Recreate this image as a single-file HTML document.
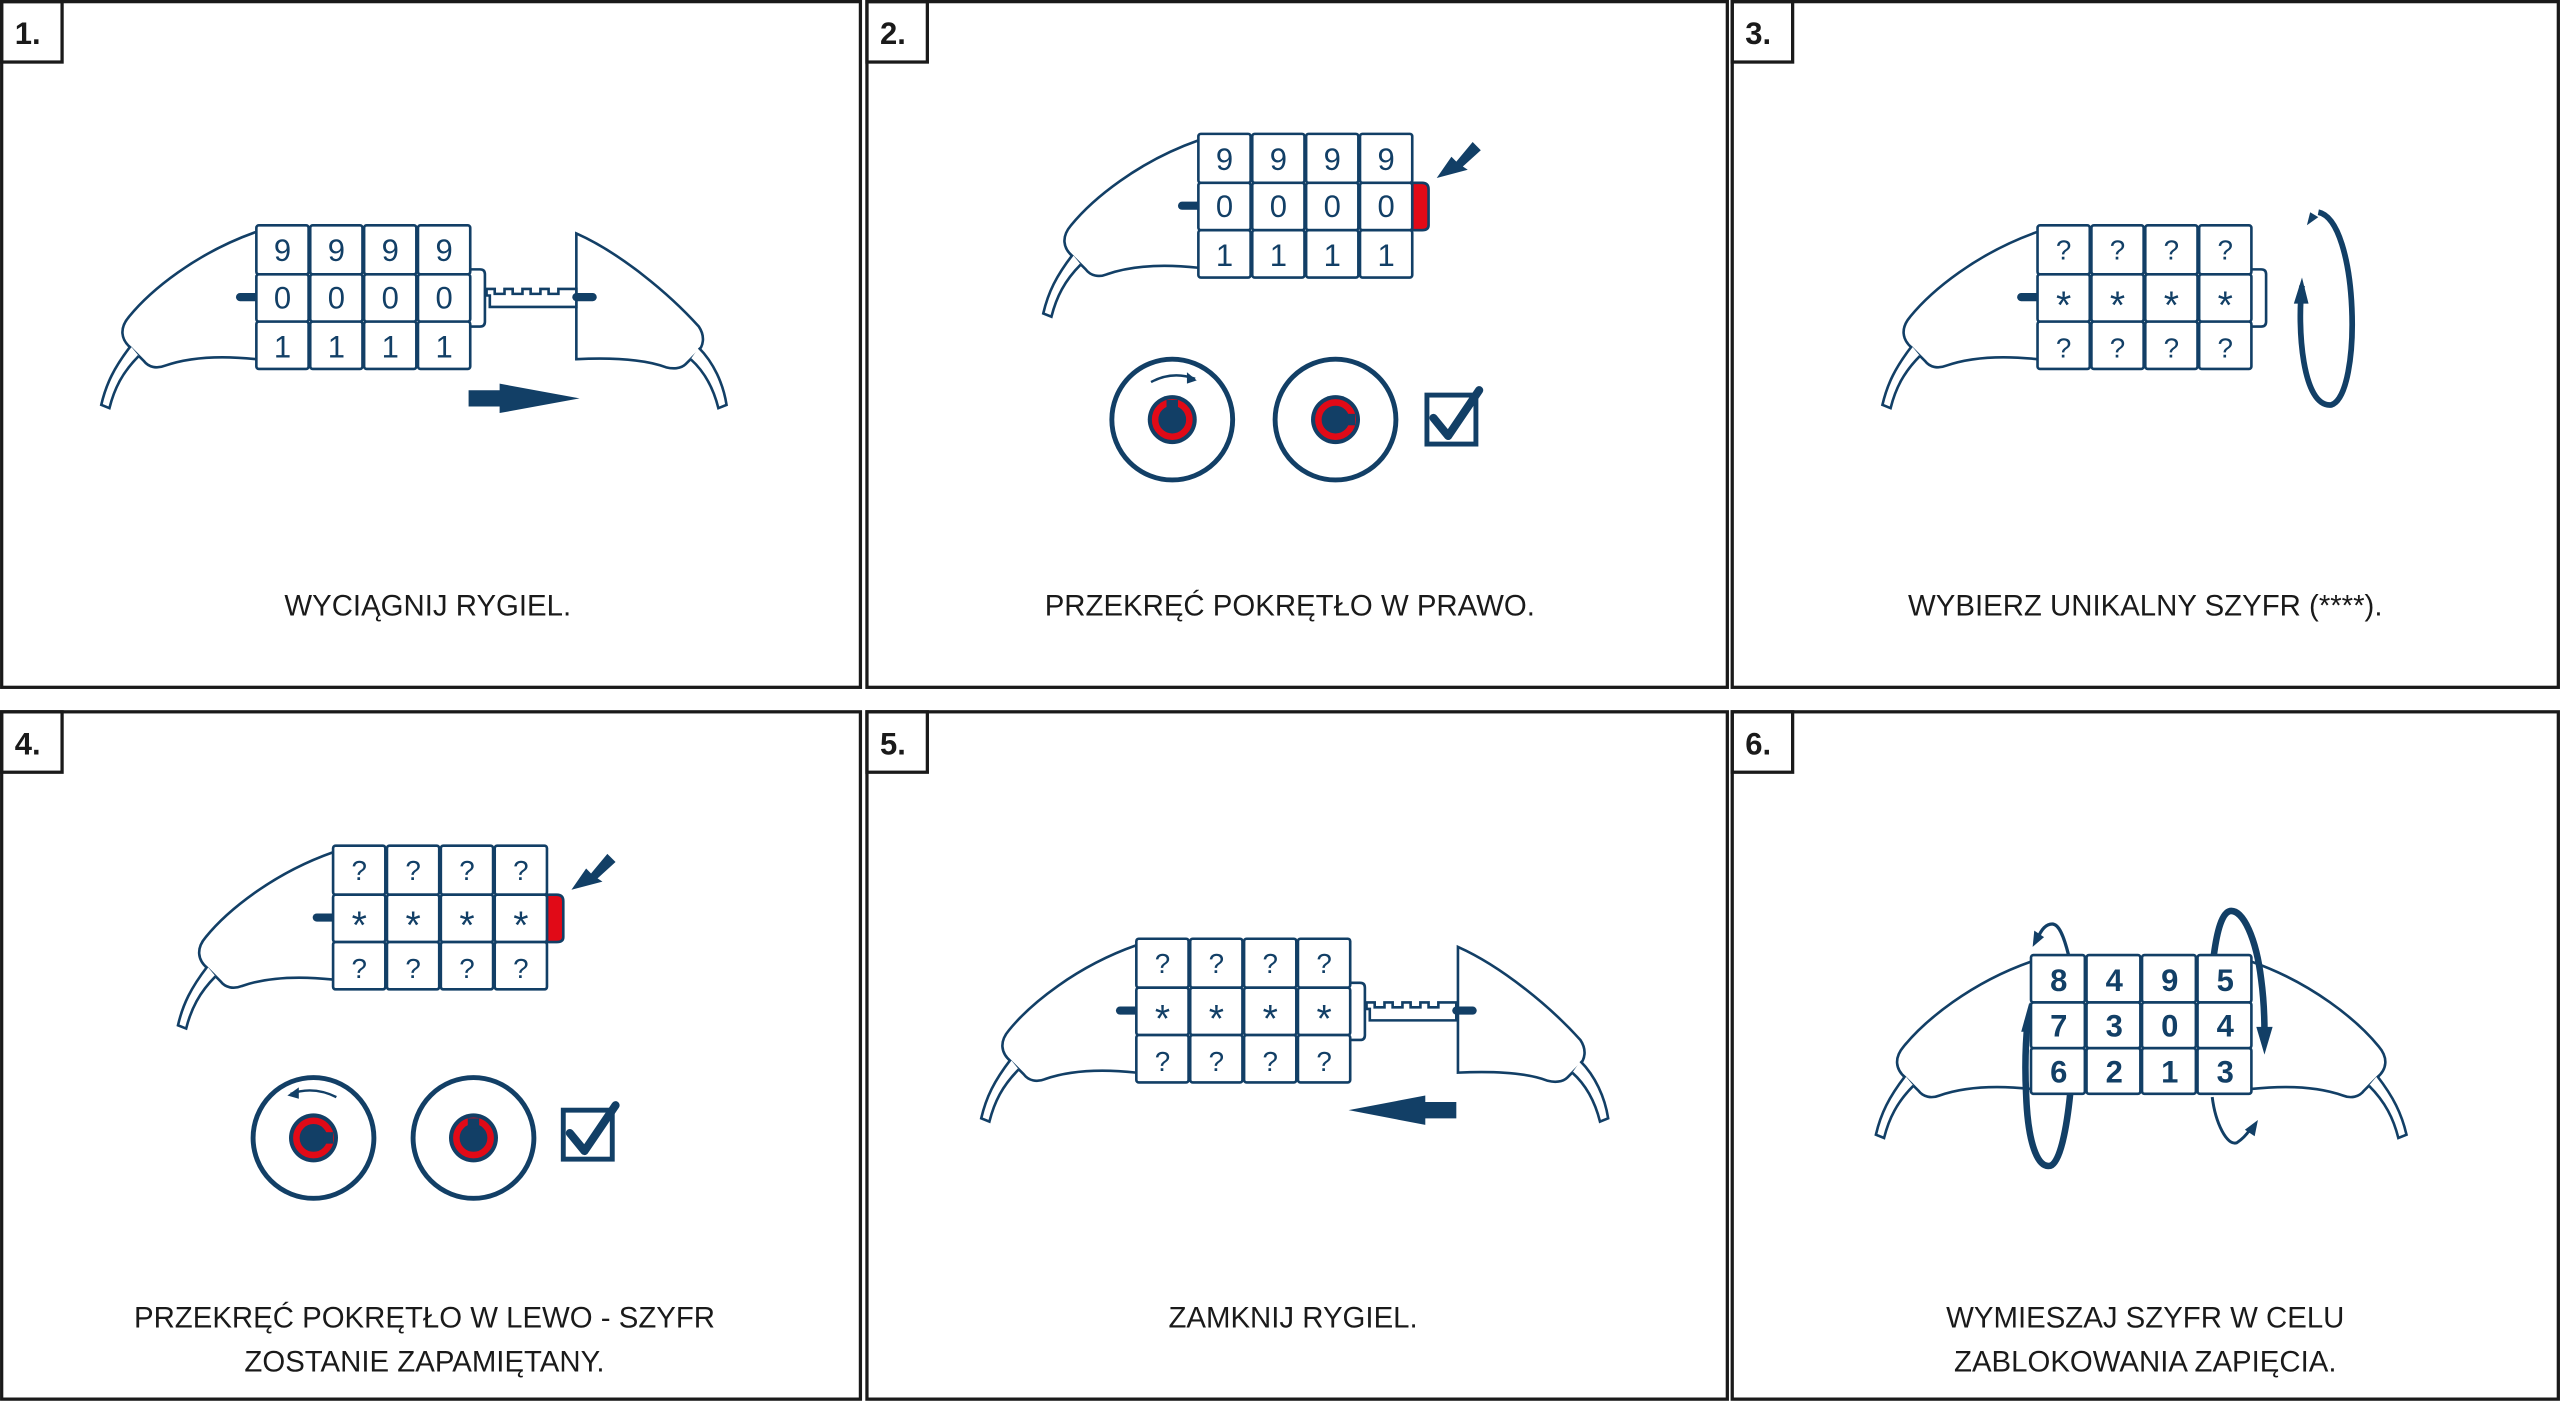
<!DOCTYPE html>
<html><head><meta charset="utf-8"><style>
html,body{margin:0;padding:0;background:#fff;}
svg{display:block;}
text{font-family:"Liberation Sans",sans-serif;}
</style></head><body>
<svg width="2560" height="1402" viewBox="0 0 1568 858.75" xmlns="http://www.w3.org/2000/svg">
<defs>
<g id="lbody" fill="#fff" stroke="#123f66" stroke-width="1.6">
 <path d="M157,142 C120,155 92,178 79,194 C73,201 74,208 80,213 L88,221 C91,225 96,226 101,224 C118,218 138,218 157,220"/>
 <path d="M80,212 C70,225 65,235 62,248 L67,250 C70,238 75,228 85,218"/>
</g>
<g id="rbody" fill="#fff" stroke="#123f66" stroke-width="1.6">
 <path d="M353,143 C380,155 410,180 428,200 C432,206 431,212 427,216 L420,223 C417,226 412,226 408,225 C395,220 375,219 353,220 Z"/>
 <path d="M428,213 C437,222 443,235 445,248 L440,250 C437,238 432,228 423,220"/>
</g>
<g id="dials" fill="#fff" stroke="#123f66" stroke-width="1.6">
 <rect x="157" y="138" width="32" height="30" rx="1.5"/><rect x="157" y="168" width="32" height="29" rx="1.5"/><rect x="157" y="197" width="32" height="29" rx="1.5"/>
 <rect x="190" y="138" width="32" height="30" rx="1.5"/><rect x="190" y="168" width="32" height="29" rx="1.5"/><rect x="190" y="197" width="32" height="29" rx="1.5"/>
 <rect x="223" y="138" width="32" height="30" rx="1.5"/><rect x="223" y="168" width="32" height="29" rx="1.5"/><rect x="223" y="197" width="32" height="29" rx="1.5"/>
 <rect x="256" y="138" width="32" height="30" rx="1.5"/><rect x="256" y="168" width="32" height="29" rx="1.5"/><rect x="256" y="197" width="32" height="29" rx="1.5"/>
</g>
<line id="knob" x1="147" y1="182" x2="157" y2="182" stroke="#123f66" stroke-width="5" stroke-linecap="round"/>
<g id="cap"><path d="M288,165 L294,165 Q297,165 297,168 L297,197 Q297,200 294,200 L288,200" fill="#fff" stroke="#123f66" stroke-width="1.6"/></g>
<g id="redcap"><path d="M288,168 L294,168 Q298,168 298,172 L298,194 Q298,197 294,197 L288,197 Z" fill="#e10a17" stroke="#123f66" stroke-width="1.6"/></g>
<g id="key" fill="#fff" stroke="#123f66" stroke-width="1.6">
 <path d="M298,177 L303,177 L303,180 L309,180 L309,177 L314,177 L314,180 L320,180 L320,177 L325,177 L325,180 L331,180 L331,177 L336,177 L336,180 L342,180 L342,177 L353,177 L353,188 L300,188 L300,181 L298,181 Z"/>
 <line x1="353" y1="182" x2="363" y2="182" stroke-width="5" stroke-linecap="round"/>
</g>
<g id="qdig" fill="#123f66" font-size="17" text-anchor="middle">
 <text x="173" y="159">?</text><text x="206" y="159">?</text><text x="239" y="159">?</text><text x="272" y="159">?</text>
 <text x="173" y="195" font-size="24">*</text><text x="206" y="195" font-size="24">*</text><text x="239" y="195" font-size="24">*</text><text x="272" y="195" font-size="24">*</text>
 <text x="173" y="219">?</text><text x="206" y="219">?</text><text x="239" y="219">?</text><text x="272" y="219">?</text>
</g>
<g id="ndig" fill="#123f66" font-size="19" text-anchor="middle">
 <text x="173" y="160">9</text><text x="206" y="160">9</text><text x="239" y="160">9</text><text x="272" y="160">9</text>
 <text x="173" y="189">0</text><text x="206" y="189">0</text><text x="239" y="189">0</text><text x="272" y="189">0</text>
 <text x="173" y="219">1</text><text x="206" y="219">1</text><text x="239" y="219">1</text><text x="272" y="219">1</text>
</g>
<g id="check"><rect x="0" y="0" width="30" height="30" fill="none" stroke="#123f66" stroke-width="3"/><path d="M4,14 L13,25 L32,-3" fill="none" stroke="#123f66" stroke-width="5" stroke-linecap="round" stroke-linejoin="round"/></g>
</defs>
<g fill="none" stroke="#1a1a1a" stroke-width="2">
 <rect x="1" y="1" width="526" height="420"/><rect x="531" y="1" width="527" height="420"/><rect x="1061" y="1" width="506" height="420"/>
 <rect x="1" y="436" width="526" height="421"/><rect x="531" y="436" width="527" height="421"/><rect x="1061" y="436" width="506" height="421"/>
 <rect x="1" y="1" width="37" height="37"/><rect x="531" y="1" width="37" height="37"/><rect x="1061" y="1" width="37" height="37"/>
 <rect x="1" y="436" width="37" height="37"/><rect x="531" y="436" width="37" height="37"/><rect x="1061" y="436" width="37" height="37"/>
</g>
<g fill="#1a1a1a" font-size="19" font-weight="bold">
 <text x="9" y="27">1.</text><text x="539" y="27">2.</text><text x="1069" y="27">3.</text>
 <text x="9" y="462">4.</text><text x="539" y="462">5.</text><text x="1069" y="462">6.</text>
</g>
<g fill="#1a1a1a" font-size="18" text-anchor="middle">
 <text x="262" y="377">WYCIĄGNIJ RYGIEL.</text>
 <text x="790" y="377">PRZEKRĘĆ POKRĘTŁO W PRAWO.</text>
 <text x="1314" y="377">WYBIERZ UNIKALNY SZYFR (****).</text>
 <text x="260" y="813">PRZEKRĘĆ POKRĘTŁO W LEWO - SZYFR</text>
 <text x="260" y="840">ZOSTANIE ZAPAMIĘTANY.</text>
 <text x="792" y="813">ZAMKNIJ RYGIEL.</text>
 <text x="1314" y="813">WYMIESZAJ SZYFR W CELU</text>
 <text x="1314" y="840">ZABLOKOWANIA ZAPIĘCIA.</text>
</g>
<!-- Panel 1 -->
<use href="#lbody"/><use href="#rbody"/><use href="#knob"/><use href="#key"/><use href="#cap"/><use href="#dials"/><use href="#ndig"/>
<path d="M287,239 L306,239 L306,235 L355,244 L306,253 L306,249 L287,249 Z" fill="#123f66"/>
<!-- Panel 2 -->
<g transform="translate(577,-56)"><use href="#lbody"/><use href="#knob"/><use href="#redcap"/><use href="#dials"/><use href="#ndig"/></g>
<path d="M880,109 L889,96 L892,99 L902,87 L907,92 L896,102 L899,104 Z" fill="#123f66"/>
<g>
 <circle cx="718" cy="257" r="37" fill="#fff" stroke="#123f66" stroke-width="3"/>
 <circle cx="718" cy="257" r="15" fill="#123f66"/><circle cx="718" cy="257" r="10.5" fill="none" stroke="#e10a17" stroke-width="4"/>
 <rect x="714.5" y="245" width="7" height="6" fill="#123f66"/>
 <path d="M705,234 Q718,227 732,232" fill="none" stroke="#123f66" stroke-width="1.5"/><path d="M733,233 L727,228 L727,235 Z" fill="#123f66"/>
 <circle cx="818" cy="257" r="37" fill="#fff" stroke="#123f66" stroke-width="3"/>
 <circle cx="818" cy="257" r="15" fill="#123f66"/><circle cx="818" cy="257" r="10.5" fill="none" stroke="#e10a17" stroke-width="4"/>
 <rect x="824" y="253.5" width="6" height="7" fill="#123f66"/>
</g>
<use href="#check" transform="translate(874,242)"/>
<!-- Panel 3 -->
<g transform="translate(1091,0)"><use href="#lbody"/><use href="#knob"/><use href="#cap"/><use href="#dials"/><use href="#qdig"/></g>
<path d="M1420,130 C1445,135 1447,242 1428,248 C1410,250 1407,200 1410,175" fill="none" stroke="#123f66" stroke-width="3.5"/>
<path d="M1405,186 L1410,170 L1414,186 Z" fill="#123f66"/>
<path d="M1413,138 L1415,130 L1420,133 Z" fill="#123f66"/>
<!-- Panel 4 -->
<g transform="translate(47,380)"><use href="#lbody"/><use href="#knob"/><use href="#redcap"/><use href="#dials"/><use href="#qdig"/></g>
<path d="M350,545 L359,532 L362,535 L372,523 L377,528 L366,538 L369,540 Z" fill="#123f66"/>
<g>
 <circle cx="192" cy="697" r="37" fill="#fff" stroke="#123f66" stroke-width="3"/>
 <circle cx="192" cy="697" r="15" fill="#123f66"/><circle cx="192" cy="697" r="10.5" fill="none" stroke="#e10a17" stroke-width="4"/>
 <rect x="198" y="693.5" width="6" height="7" fill="#123f66"/>
 <path d="M206,672 Q192,665 178,670" fill="none" stroke="#123f66" stroke-width="1.5"/><path d="M176,671 L183,666 L183,673 Z" fill="#123f66"/>
 <circle cx="290" cy="697" r="37" fill="#fff" stroke="#123f66" stroke-width="3"/>
 <circle cx="290" cy="697" r="15" fill="#123f66"/><circle cx="290" cy="697" r="10.5" fill="none" stroke="#e10a17" stroke-width="4"/>
 <rect x="286.5" y="685" width="7" height="6" fill="#123f66"/>
</g>
<use href="#check" transform="translate(345,680)"/>
<!-- Panel 5 -->
<g transform="translate(540,437)"><use href="#rbody"/></g>
<g transform="translate(539,437)"><use href="#lbody"/><use href="#knob"/><use href="#key"/><use href="#cap"/><use href="#dials"/><use href="#qdig"/></g>
<path d="M892,675 L873,675 L873,671 L826,680 L873,689 L873,685 L892,685 Z" fill="#123f66"/>
<!-- Panel 6 -->
<g transform="translate(1087,447)"><use href="#lbody"/></g>
<g transform="translate(1536,447) scale(-1,1)"><use href="#lbody"/></g>
<!-- left rotation -->
<path d="M1267,585 C1264,573 1261,566 1257,566 C1253,566 1250,570 1248,575" fill="none" stroke="#123f66" stroke-width="2"/>
<path d="M1245,580 L1246,570 L1252,574 Z" fill="#123f66"/>
<path d="M1268,670 C1266,690 1262,712 1256,714 C1248,716 1242,700 1241,670 C1240,650 1241,635 1242,625" fill="none" stroke="#123f66" stroke-width="4"/>
<path d="M1238,632 L1243,614 L1248,632 Z" fill="#123f66"/>
<!-- right rotation -->
<path d="M1356,585 C1358,570 1361,559 1366,558 C1374,557 1382,575 1385,600 C1387,615 1387,625 1387,632" fill="none" stroke="#123f66" stroke-width="4"/>
<path d="M1382,629 L1387,646 L1392,629 Z" fill="#123f66"/>
<path d="M1355,672 C1357,688 1364,702 1370,700 C1373,698 1376,695 1378,692" fill="none" stroke="#123f66" stroke-width="1.8"/>
<path d="M1383,686 L1381,696 L1375,692 Z" fill="#123f66"/>
<g fill="#fff" stroke="#123f66" stroke-width="1.6">
 <rect x="1244" y="585" width="33" height="29" rx="1.5"/><rect x="1244" y="614" width="33" height="28" rx="1.5"/><rect x="1244" y="642" width="33" height="28" rx="1.5"/>
 <rect x="1278" y="585" width="33" height="29" rx="1.5"/><rect x="1278" y="614" width="33" height="28" rx="1.5"/><rect x="1278" y="642" width="33" height="28" rx="1.5"/>
 <rect x="1312" y="585" width="33" height="29" rx="1.5"/><rect x="1312" y="614" width="33" height="28" rx="1.5"/><rect x="1312" y="642" width="33" height="28" rx="1.5"/>
 <rect x="1346" y="585" width="33" height="29" rx="1.5"/><rect x="1346" y="614" width="33" height="28" rx="1.5"/><rect x="1346" y="642" width="33" height="28" rx="1.5"/>
</g>
<g fill="#123f66" font-size="19" font-weight="bold" text-anchor="middle">
 <text x="1261" y="607">8</text><text x="1295" y="607">4</text><text x="1329" y="607">9</text><text x="1363" y="607">5</text>
 <text x="1261" y="635">7</text><text x="1295" y="635">3</text><text x="1329" y="635">0</text><text x="1363" y="635">4</text>
 <text x="1261" y="663">6</text><text x="1295" y="663">2</text><text x="1329" y="663">1</text><text x="1363" y="663">3</text>
</g>
</svg>
</body></html>
